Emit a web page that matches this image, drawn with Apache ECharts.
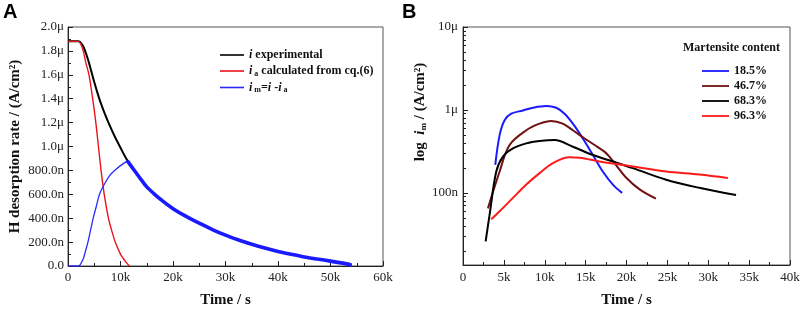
<!DOCTYPE html>
<html>
<head>
<meta charset="utf-8">
<script src="https://cdn.jsdelivr.net/npm/echarts@6/dist/echarts.min.js"></script>
<style>html,body{margin:0;padding:0;background:#fff;}#c{width:803px;height:313px;}</style>
</head>
<body>
<div id="c"></div>
<script>
// ---------- Panel A data (time in s, current in nA/cm^2) ----------
const expT = [0,1000,2000,2500,3000,3500,4000,4500,5000,5500,6000,7000,8000,9000,10000,11000,12000,13000,14000,15000,16500,18000,20000,22500,25000,27500,30000,32500,35000,37500,40000,42500,45000,47500,50000,52000,54000];
const expV = [1880,1880,1880,1865,1830,1770,1700,1620,1540,1465,1395,1275,1170,1075,990,905,838,778,718,662,600,545,480,415,359,305,258,218,182,150,122,98,76,58,41,26,9];
const calcT = [0,1000,2000,2400,2900,3400,4000,4700,5300,5800,6300,6900,7700,8300,9000,10000,11000,11700];
const calcV = [1880,1880,1880,1860,1800,1700,1600,1400,1200,1000,800,600,400,300,200,100,35,0];
const diffT = [0,1000,2000,2900,3300,3800,4300,4800,5400,6000,7000,8000,8900,10000,11300];
const diffV = [0,0,0,60,120,200,300,400,500,600,690,760,800,840,880];
const diffTailT = [11300,12000,13000,14000,15000,16500,18000,20000,22500,25000,27500,30000,32500,35000,37500,40000,42500,45000,47500,50000,52000,54000];
const diffTailV = [880,838,778,718,662,600,545,480,415,359,305,258,218,182,150,122,98,76,58,41,26,9];

// ---------- Panel B data (time in s, i_m in nA/cm^2) ----------
const bNames = ['18.5%','46.7%','68.3%','96.3%'];
const b185T = [3950,4480,5090,5900,7330,8550,10180,11400,12420,13440,14660,15890,17100,18330,19470];
const b185V = [218,497,750,900,986,1062,1112,1062,900,683,453,286,181,126,100];
const b467T = [3050,4480,5700,7740,9370,10800,12200,13440,14870,16100,17300,17900,18700,20000,21600,23600];
const b467V = [65,181,378,569,683,736,683,569,453,378,314,274,218,151,110,85];
const b683T = [2770,3260,4070,4890,6110,7740,9370,11200,13440,15890,18330,20770,24850,28900,33400];
const b683V = [26,55,181,274,344,395,421,433,360,286,239,199,144,115,94];
const b963T = [3460,4480,6110,7740,9370,11000,13000,14260,16700,20770,24850,28900,32400];
const b963V = [48,60,87,126,173,228,269,266,239,208,181,166,151];

// tick values
const bMajor = [100,1000,10000];
const bMinor = [20,30,40,50,60,70,80,90,200,300,400,500,600,700,800,900,2000,3000,4000,5000,6000,7000,8000,9000];

const zip = (t,v) => t.map((x,i)=>[x,v[i]]);
const SERIF = 'Liberation Serif';
const labelStyle = {fontFamily: SERIF, fontSize: 13, color: '#222'};
const nameStyle = {fontFamily: SERIF, fontSize: 15, fontWeight: 'bold', color: '#111'};
const richBase = {
  n: {fontFamily: SERIF, fontSize: 12, fontWeight: 'bold', color: '#111'},
  it: {fontFamily: SERIF, fontSize: 12, fontWeight: 'bold', fontStyle: 'italic', color: '#111'},
  sub: {fontFamily: SERIF, fontSize: 8, fontWeight: 'bold', color: '#111', padding: [5,0,0,0]}
};
const kfmt = v => v === 0 ? '0' : (v/1000) + 'k';

const chart = echarts.init(document.getElementById('c'));
const option = {
  animation: false,
  backgroundColor: '#fff',
  graphic: [
    {type:'text', left: 3, top: 2, style:{text:'A', font:'bold 20px "Liberation Sans"', fill:'#000'}},
    {type:'text', left: 402, top: 2, style:{text:'B', font:'bold 20px "Liberation Sans"', fill:'#000'}},
    {type:'text', left: 683, top: 42, style:{text:'Martensite content', font:'bold 12px "Liberation Serif"', fill:'#111'}}
  ],
  grid: [
    {left: 68, top: 27, right: 420, bottom: 42, show: true, borderColor: '#555', borderWidth: 1},
    {left: 463, top: 27, right: 13, bottom: 45, show: true, borderColor: '#555', borderWidth: 1}
  ],
  legend: [
    {
      orient: 'vertical', left: 215, top: 44, itemWidth: 24, itemHeight: 10, itemGap: 4,
      data: ['exp','calc','diff'], icon: 'path://M0,4.2L24,4.2L24,5.8L0,5.8Z',
      textStyle: {rich: richBase},
      formatter: n => ({
        exp: '{it|i}{n| experimental}',
        calc: '{it|i}{sub| a}{n| calculated from cq.(6)}',
        diff: '{it|i}{sub| m}{n|=}{it|i}{n| -}{it|i}{sub| a}'
      })[n]
    },
    {
      orient: 'vertical', left: 697, top: 60, itemWidth: 27, itemHeight: 10, itemGap: 3,
      data: bNames, icon: 'path://M0,4.1L27,4.1L27,5.9L0,5.9Z',
      textStyle: {fontFamily: SERIF, fontSize: 12, fontWeight: 'bold', color: '#111'}
    }
  ],
  xAxis: [
    {
      type: 'value', gridIndex: 0, min: 0, max: 60000, interval: 10000,
      name: 'Time / s', nameLocation: 'middle', nameGap: 27, nameTextStyle: nameStyle,
      axisLine: {lineStyle: {color: '#222'}},
      axisTick: {inside: true, length: 5, lineStyle: {color: '#222'}},
      minorTick: {show: true, splitNumber: 2, length: 3, lineStyle: {color: '#222'}},
      splitLine: {show: false},
      axisLabel: Object.assign({formatter: kfmt, margin: 5}, labelStyle)
    },
    {
      type: 'value', gridIndex: 1, min: 0, max: 40000, interval: 5000,
      name: 'Time / s', nameLocation: 'middle', nameGap: 28, nameTextStyle: nameStyle,
      axisLine: {lineStyle: {color: '#222'}},
      axisTick: {inside: true, length: 5, lineStyle: {color: '#222'}},
      minorTick: {show: true, splitNumber: 2, length: 3, lineStyle: {color: '#222'}},
      splitLine: {show: false},
      axisLabel: Object.assign({formatter: kfmt, margin: 6}, labelStyle)
    }
  ],
  yAxis: [
    {
      type: 'value', gridIndex: 0, min: 0, max: 2000, interval: 200,
      name: 'H desorption rate / (A/cm²)', nameLocation: 'middle', nameGap: 45, nameTextStyle: nameStyle,
      axisLine: {lineStyle: {color: '#222'}},
      axisTick: {inside: true, length: 5, lineStyle: {color: '#222'}},
      minorTick: {show: true, splitNumber: 2, length: 3, lineStyle: {color: '#222'}},
      splitLine: {show: false},
      axisLabel: Object.assign({margin: 4, formatter: v => v < 1000 ? v.toFixed(1) + (v === 0 ? '' : 'n') : (v/1000).toFixed(1) + 'μ'}, labelStyle)
    },
    {
      type: 'log', gridIndex: 1, min: 13.5, max: 10000, logBase: 10,
      name: '{n|log  }{it|i}{sub|m}{n| / (A/cm²)}', nameLocation: 'middle', nameGap: 30,
      nameTextStyle: {rich: {
        n: {fontFamily: SERIF, fontSize: 15, fontWeight: 'bold', color: '#111'},
        it: {fontFamily: SERIF, fontSize: 15, fontWeight: 'bold', fontStyle: 'italic', color: '#111'},
        sub: {fontFamily: SERIF, fontSize: 9, fontWeight: 'bold', color: '#111', padding: [7,0,0,0]}
      }, padding: [0,0,0,68]},
      axisLine: {lineStyle: {color: '#222'}},
      axisTick: {inside: true, length: 5, customValues: bMajor, lineStyle: {color: '#222'}},
      splitLine: {show: false},
      axisLabel: Object.assign({margin: 5, customValues: bMajor, formatter: v => v >= 1000 ? (v/1000) + 'μ' : v + 'n'}, labelStyle)
    },
    {
      type: 'log', gridIndex: 1, min: 13.5, max: 10000, logBase: 10, position: 'left',
      axisLine: {show: false},
      axisTick: {show: true, inside: true, length: 3, customValues: bMinor, lineStyle: {color: '#222', width: 1}},
      splitLine: {show: false},
      axisLabel: {show: false}
    }
  ],
  series: [
    {name: 'exp', type: 'line', xAxisIndex: 0, yAxisIndex: 0, data: zip(expT, expV), smooth: 0.3, showSymbol: false, symbol: 'none', color: '#000', lineStyle: {width: 2, color: '#000'}},
    {name: 'calc', type: 'line', xAxisIndex: 0, yAxisIndex: 0, data: zip(calcT, calcV), smooth: 0.3, showSymbol: false, symbol: 'none', color: '#e8141b', lineStyle: {width: 1.4, color: '#e8141b'}},
    {name: 'diff', type: 'line', xAxisIndex: 0, yAxisIndex: 0, data: zip(diffT, diffV), smooth: 0.3, showSymbol: false, symbol: 'none', color: '#2a2aff', itemStyle: {color: '#2a2aff'}, lineStyle: {width: 1.3, color: '#2a2aff'}},
    {name: 'diffTail', type: 'line', xAxisIndex: 0, yAxisIndex: 0, data: zip(diffTailT, diffTailV), smooth: 0.3, showSymbol: false, symbol: 'none', color: '#1a1aff', lineStyle: {width: 3.6, color: '#1a1aff'}},
    {name: '18.5%', type: 'line', xAxisIndex: 1, yAxisIndex: 1, data: zip(b185T, b185V), smooth: 0.35, showSymbol: false, symbol: 'none', color: '#1a1aff', lineStyle: {width: 2, color: '#1a1aff'}},
    {name: '46.7%', type: 'line', xAxisIndex: 1, yAxisIndex: 1, data: zip(b467T, b467V), smooth: 0.35, showSymbol: false, symbol: 'none', color: '#701010', lineStyle: {width: 2, color: '#701010'}},
    {name: '68.3%', type: 'line', xAxisIndex: 1, yAxisIndex: 1, data: zip(b683T, b683V), smooth: 0.35, showSymbol: false, symbol: 'none', color: '#000', lineStyle: {width: 2, color: '#000'}},
    {name: '96.3%', type: 'line', xAxisIndex: 1, yAxisIndex: 1, data: zip(b963T, b963V), smooth: 0.35, showSymbol: false, symbol: 'none', color: '#ff1a1a', lineStyle: {width: 2, color: '#ff1a1a'}}
  ]
};
chart.setOption(option);
</script>
</body>
</html>
